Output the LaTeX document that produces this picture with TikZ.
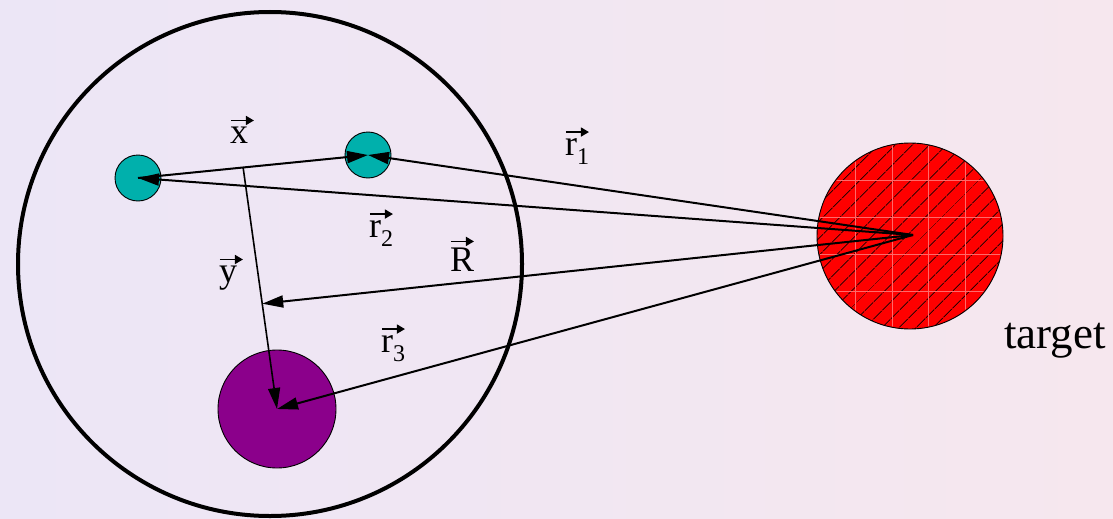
\RequirePackage{fix-cm}
\documentclass[tikz,border=0pt]{standalone}
\usepackage{fontspec}
\setmainfont{Liberation Serif}
\newfontfamily\labfont{Liberation Serif}
\usetikzlibrary{arrows.meta,calc,patterns.meta}
\definecolor{BgLilac}{RGB}{236,230,246}
\definecolor{BgPink}{RGB}{246,231,238}
\definecolor{Teal}{RGB}{0,176,172}
\definecolor{Plum}{RGB}{139,0,139}
\definecolor{TargetRed}{RGB}{255,0,0}
\definecolor{GridPink}{RGB}{255,105,105}
\newcommand{\varrow}{\tikz[baseline=0pt]\draw[line width=1.5pt,-{Triangle[length=8pt,width=9pt]}] (0pt,0pt) -- (23pt,0pt);}
\newcommand{\vlab}[2][]{\leavevmode\setbox0=\hbox{#2}\rlap{\raisebox{\dimexpr\ht0+6pt\relax}{\varrow}}#2\if\relax\detokenize{#1}\relax\else\raisebox{-9pt}{\fontsize{24}{26}\selectfont#1}\fi}
\tikzset{
  >={Triangle[length=21pt,width=12pt]},
  ball/.style={circle,draw=black,line width=.9pt,inner sep=0pt},
  shell/.style={circle,draw=black,line width=4pt,minimum size=504pt,inner sep=0pt},
  vec/.style={->,line width=2pt,draw=black},
  lab/.style={font=\labfont\fontsize{36}{40}\selectfont,inner sep=0pt,anchor=base west},
  gridline/.style={draw=GridPink,line width=.6pt}
}
\begin{document}
\begin{tikzpicture}[x=1pt,y=-1pt]
  \shade[left color=BgLilac,right color=BgPink] (0,0) rectangle (1113,519);
  \useasboundingbox (0,0) rectangle (1113,519);
  \node[shell] (shell) at (270,264) {};
  \node[ball,fill=Teal,minimum size=46pt] (e1) at (138,178) {};
  \node[ball,fill=Teal,minimum size=46pt] (e2) at (368,155) {};
  \node[ball,fill=Plum,minimum size=118pt] (core) at (277,409) {};
  \node[ball,fill=TargetRed,minimum size=186pt,postaction={pattern={Lines[angle=45,distance=13pt,line width=1.1pt]},pattern color=black}] (tgt) at (910,236) {};
  \begin{scope}
    \clip (tgt.center) circle (92);
    \foreach \g in {855,892,928,965} \draw[gridline] (\g,140) -- (\g,332);
    \foreach \g in {180,217,254,291} \draw[gridline] (815,\g) -- (1005,\g);
  \end{scope}
  \coordinate (src) at (913,235);
  \coordinate (xf) at ($(e1)!.457!(e2)$);
  \coordinate (yR) at ($(xf)!.564!(core)$);
  \draw[vec] (e1.center) -- (e2.center);
  \draw[vec] (src) -- (e1.center);
  \draw[vec] (src) -- (e2.center);
  \draw[vec] (src) -- (yR);
  \draw[vec] (src) -- (core.center);
  \draw[vec,line width=1.6pt] (xf) -- (core.center);
  \node[lab] (lx) at (230,143) {\vlab{x}};
  \node[lab] (lr1) at (565,155) {\vlab[1]{r}};
  \node[lab] (lr2) at (369,237) {\vlab[2]{r}};
  \node[lab] (lR) at (450,271) {\vlab{R}};
  \node[lab] (ly) at (219,282) {\vlab{y}};
  \node[lab] (lr3) at (381,352) {\vlab[3]{r}};
  \node[font=\labfont\fontsize{45}{50}\selectfont,inner sep=0pt,anchor=base west] (tname) at (1004,348) {target};
\end{tikzpicture}
\end{document}
